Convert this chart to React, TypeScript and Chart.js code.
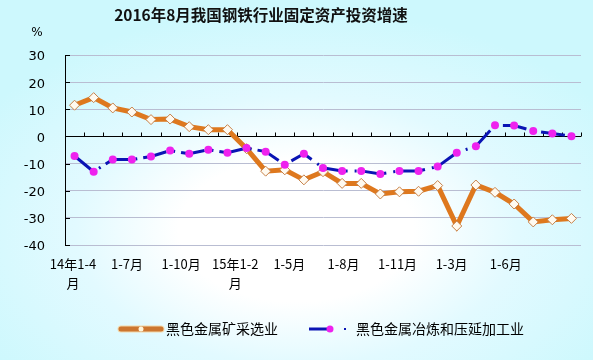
import { useEffect, useRef } from "react";
import { Chart, registerables } from "chart.js";

Chart.register(...registerables);

const chartTitle = "2016年8月我国钢铁行业固定资产投资增速";
const unitLabel = "%";

const categories = [
  "14年1-4月", "14年1-5月", "14年1-6月", "14年1-7月", "14年1-8月", "14年1-9月", "14年1-10月", "14年1-11月", "14年1-12月",
  "15年1-2月", "15年1-3月", "15年1-4月", "15年1-5月", "15年1-6月", "15年1-7月", "15年1-8月", "15年1-9月", "15年1-10月", "15年1-11月", "15年1-12月",
  "16年1-2月", "16年1-3月", "16年1-4月", "16年1-5月", "16年1-6月", "16年1-7月", "16年1-8月",
];

const tickLabels = ["14年1-4月", "1-7月", "1-10月", "15年1-2月", "1-5月", "1-8月", "1-11月", "1-3月", "1-6月"];

const miningLabel = "黑色金属矿采选业";
const miningValues = [
  11.5, 14.3, 10.5, 9.0, 6.2, 6.4, 3.6, 2.5, 2.5,
  -4.5, -12.8, -12.3, -16.0, -13.0, -17.3, -17.3, -21.2, -20.4, -20.2, -18.1,
  -33.0, -17.9, -20.6, -24.9, -31.5, -30.7, -30.2,
];

const smeltingLabel = "黑色金属冶炼和压延加工业";
const smeltingValues = [
  -7.2, -13.0, -8.5, -8.5, -7.4, -5.2, -6.4, -4.9, -6.0,
  -4.3, -5.6, -10.4, -6.4, -11.6, -12.7, -12.7, -13.8, -12.7, -12.7, -11.1,
  -6.0, -3.6, 4.1, 4.0, 2.0, 1.1, 0.1,
];

const yMin = -40;
const yMax = 30;
const yStep = 10;

const ORANGE = "#DE781E";
const BLUE = "#0A14B4";
const MAGENTA = "#EE22EE";
const CJK = '"Noto Sans CJK SC", "Noto Sans", sans-serif';

const decor = {
  id: "decor",
  beforeDatasetsDraw(chart: any) {
    const { ctx, chartArea: a, scales } = chart;
    const y = scales.y;
    const x = scales.x;
    const y0 = Math.round(y.getPixelForValue(0)) + 0.5;
    ctx.save();
    ctx.strokeStyle = "#000";
    ctx.lineWidth = 1;
    ctx.beginPath();
    ctx.moveTo(a.left, y0);
    ctx.lineTo(a.right, y0);
    const n = categories.length;
    for (let i = 0; i < n; i++) {
      const c = x.getPixelForValue(i);
      const half = (a.right - a.left) / n / 2;
      const px = Math.round(c + half) + 0.5;
      ctx.moveTo(px, y0);
      ctx.lineTo(px, y0 - 4);
    }
    y.ticks.forEach((t: any) => {
      const py = Math.round(y.getPixelForValue(t.value)) + 0.5;
      ctx.moveTo(a.left, py);
      ctx.lineTo(a.left + 5, py);
    });
    ctx.stroke();
    ctx.restore();
  },
  afterDraw(chart: any) {
    const { ctx } = chart;
    ctx.save();
    // title
    ctx.fillStyle = "#111";
    ctx.font = `bold 15.5px ${CJK}`;
    ctx.textAlign = "center";
    ctx.textBaseline = "middle";
    ctx.fillText(chartTitle, 261, 15);
    // unit
    ctx.font = `12px "DejaVu Sans", sans-serif`;
    ctx.fillStyle = "#000";
    ctx.fillText(unitLabel, 37, 33);

    // legend
    const ly = 329;
    const ds = chart.data.datasets;
    ctx.lineCap = "round";
    ctx.strokeStyle = "#F3D7A8";
    ctx.lineWidth = 7;
    ctx.beginPath();
    ctx.moveTo(121, ly);
    ctx.lineTo(161, ly);
    ctx.stroke();
    ctx.strokeStyle = "#CC7630";
    ctx.lineWidth = 5;
    ctx.beginPath();
    ctx.moveTo(121, ly);
    ctx.lineTo(161, ly);
    ctx.stroke();
    ctx.fillStyle = "#FFF6DC";
    ctx.beginPath();
    ctx.arc(141, ly, 2.5, 0, Math.PI * 2);
    ctx.fill();

    ctx.lineCap = "butt";
    ctx.strokeStyle = BLUE;
    ctx.lineWidth = 3;
    ctx.beginPath();
    ctx.moveTo(309, ly);
    ctx.lineTo(330, ly);
    ctx.stroke();
    ctx.fillStyle = MAGENTA;
    ctx.beginPath();
    ctx.arc(330, ly, 3.5, 0, Math.PI * 2);
    ctx.fill();
    ctx.fillStyle = BLUE;
    ctx.fillRect(344, ly - 1, 2, 2);

    ctx.fillStyle = "#000";
    ctx.font = `14px ${CJK}`;
    ctx.textAlign = "left";
    ctx.fillText(ds[0].label, 166, ly);
    ctx.fillText(ds[1].label, 356, ly);
    ctx.restore();
  },
};

export default function App() {
  const ref = useRef<HTMLCanvasElement | null>(null);

  useEffect(() => {
    if (!ref.current) return;
    const chart = new Chart(ref.current, {
      type: "line",
      data: {
        labels: categories,
        datasets: [
          {
            label: miningLabel,
            data: miningValues,
            borderColor: ORANGE,
            borderWidth: 5,
            pointStyle: "rectRot",
            pointRadius: 5,
            pointBackgroundColor: "#FFFAF0",
            pointBorderColor: "#C58048",
            pointBorderWidth: 1,
            tension: 0,
            order: 1,
          },
          {
            label: smeltingLabel,
            data: smeltingValues,
            borderColor: BLUE,
            borderWidth: 3,
            borderDash: [24, 7, 2, 6],
            pointStyle: "circle",
            pointRadius: 4,
            pointBackgroundColor: MAGENTA,
            pointBorderColor: MAGENTA,
            pointBorderWidth: 0,
            tension: 0,
            order: 0,
          },
        ],
      },
      options: {
        animation: false,
        responsive: false,
        events: [],
        layout: { padding: { left: 0, right: 12, top: 55, bottom: 65 } },
        plugins: {
          legend: { display: false },
          title: { display: false },
          tooltip: { enabled: false },
        },
        scales: {
          x: {
            type: "category",
            offset: true,
            display: false,
          },
          xl: {
            type: "linear",
            position: "bottom",
            min: -0.148,
            max: 9.392,
            grid: { display: false },
            border: { display: false },
            afterBuildTicks: (s: any) => {
              s.ticks = tickLabels.map((_, i) => ({ value: i }));
            },
            afterFit: (s: any) => {
              s.height = 50;
            },
            ticks: {
              autoSkip: false,
              maxRotation: 0,
              minRotation: 0,
              padding: 2,
              color: "#000",
              font: { family: CJK, size: 13, lineHeight: 1.45 },
              callback: (_v: any, i: number) => {
                const l = tickLabels[i];
                if (l === undefined) return "";
                return l.includes("年") ? [l.slice(0, -1), "月"] : l;
              },
            },
          },
          y: {
            min: yMin,
            max: yMax,
            afterFit: (s: any) => {
              s.width = 65;
            },
            border: { display: true, color: "#000", width: 1 },
            grid: {
              drawTicks: false,
              color: (c: any) => (c.tick && c.tick.value === 0 ? "#000" : "#B9BDD2"),
              lineWidth: 1,
            },
            ticks: {
              stepSize: yStep,
              padding: 20,
              labelOffset: 2,
              color: "#000",
              font: { family: '"DejaVu Sans", sans-serif', size: 13 },
            },
          },
        },
      },
      plugins: [decor],
    });
    return () => chart.destroy();
  }, []);

  return (
    <div
      style={{
        position: "absolute",
        left: 0,
        top: 0,
        width: 593,
        height: 360,
        background:
          "radial-gradient(ellipse 62% 62% at 50% 64%, #ffffff 0%, #ffffff 32%, #e2faff 60%, #cdf8fd 100%)",
      }}
    >
      <canvas ref={ref} width={593} height={360} style={{ display: "block" }} />
    </div>
  );
}
